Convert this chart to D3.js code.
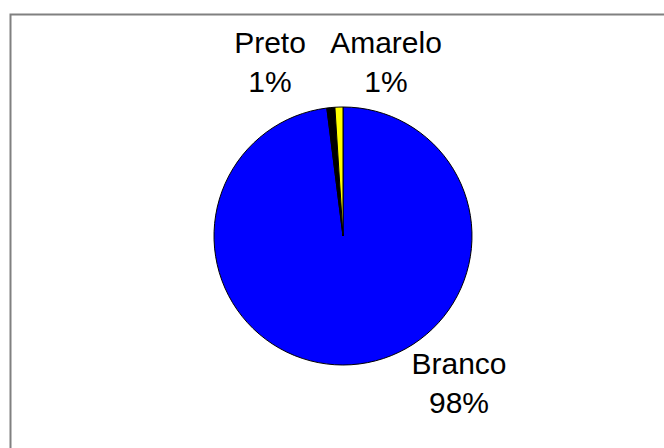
<!DOCTYPE html>
<html>
<head>
<meta charset="utf-8">
<script src="https://cdn.jsdelivr.net/npm/d3@7/dist/d3.min.js"></script>
<style>
  html, body { margin: 0; padding: 0; background: #fff; }
  svg { display: block; }
  text { font-family: "Liberation Sans", Arial, sans-serif; fill: #000; }
</style>
</head>
<body>
<svg id="chart" width="664" height="448"></svg>
<script>
// Population share by colour
const categories = ["Branco", "Preto", "Amarelo"];
const values = [98, 1, 1];
const colors = ["#0000FF", "#000000", "#FFFF00"];

const svg = d3.select("#chart");
const W = 664, H = 448;

// Chart area frame (open to the right and bottom edges)
svg.append("path")
  .attr("d", `M10.5,${H + 2} L10.5,14.5 L${W + 2},14.5`)
  .attr("fill", "none")
  .attr("stroke", "#808080")
  .attr("stroke-width", 2);

const cx = 343, cy = 236, r = 129;
const g = svg.append("g").attr("transform", `translate(${cx},${cy})`);

const data = categories.map((c, i) => ({ name: c, value: values[i], color: colors[i] }));
const pie = d3.pie().sort(null).value(d => d.value);
const arcs = pie(data);
const arc = d3.arc().innerRadius(0).outerRadius(r);

g.selectAll("path.slice")
  .data(arcs)
  .join("path")
  .attr("class", "slice")
  .attr("d", arc)
  .attr("fill", d => d.data.color)
  .attr("stroke", "#000")
  .attr("stroke-width", 1)
  .attr("stroke-linejoin", "round");

// Label anchors relative to pie centre: [dx, first baseline dy]
const labelOffsets = {
  Branco: [116, 138],
  Preto: [-73, -183],
  Amarelo: [43, -183]
};
const lineGap = 39;
const total = d3.sum(values);
const fmt = v => Math.round(v / total * 100) + "%";

const labels = g.selectAll("text.lbl")
  .data(arcs)
  .join("text")
  .attr("class", "lbl")
  .attr("text-anchor", "middle")
  .attr("font-size", 30)
  .attr("x", d => labelOffsets[d.data.name][0])
  .attr("y", d => labelOffsets[d.data.name][1]);

labels.append("tspan")
  .attr("x", d => labelOffsets[d.data.name][0])
  .text(d => d.data.name);
labels.append("tspan")
  .attr("x", d => labelOffsets[d.data.name][0])
  .attr("dy", lineGap)
  .text(d => fmt(d.data.value));
</script>
</body>
</html>
